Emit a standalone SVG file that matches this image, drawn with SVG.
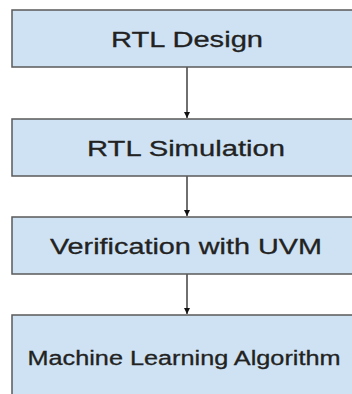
<svg xmlns="http://www.w3.org/2000/svg" width="352" height="394" viewBox="0 0 352 394">
<style>
.box{fill:#cfe2f3;stroke:#5a5a5a;stroke-width:1.5}
.lbl{font-family:"Liberation Sans",Arial,sans-serif;fill:#222;stroke:#222;stroke-width:0.3;text-anchor:middle}
.conn{stroke:#222;stroke-width:1.3;fill:none}
</style>
<defs>
<marker id="ah" viewBox="0 0 6 6" refX="6" refY="3" markerWidth="6" markerHeight="6" markerUnits="userSpaceOnUse" orient="auto">
<path d="M0,0 L6,3 L0,6 Z" fill="#111"/>
</marker>
</defs>
<rect width="352" height="394" fill="#ffffff"/>
<g id="connectors">
<line class="conn" x1="187" y1="67" x2="187" y2="118" marker-end="url(#ah)"/>
<line class="conn" x1="187" y1="176" x2="187" y2="216" marker-end="url(#ah)"/>
<line class="conn" x1="187" y1="274" x2="187" y2="314" marker-end="url(#ah)"/>
</g>
<g id="rtl-design">
<rect class="box" x="12" y="10" width="360" height="57"/>
<text class="lbl" x="187" y="46.5" font-size="22" textLength="152" lengthAdjust="spacingAndGlyphs">RTL Design</text>
</g>
<g id="rtl-simulation">
<rect class="box" x="12" y="119" width="360" height="57"/>
<text class="lbl" x="186" y="155.5" font-size="22" textLength="198" lengthAdjust="spacingAndGlyphs">RTL Simulation</text>
</g>
<g id="verification-uvm">
<rect class="box" x="12" y="217" width="360" height="57"/>
<text class="lbl" x="186" y="253.5" font-size="22" textLength="272" lengthAdjust="spacingAndGlyphs">Verification with UVM</text>
</g>
<g id="ml-algorithm">
<rect class="box" x="12" y="315" width="360" height="100"/>
<text class="lbl" x="184" y="365" font-size="20" textLength="313" lengthAdjust="spacingAndGlyphs">Machine Learning Algorithm</text>
</g>
</svg>
